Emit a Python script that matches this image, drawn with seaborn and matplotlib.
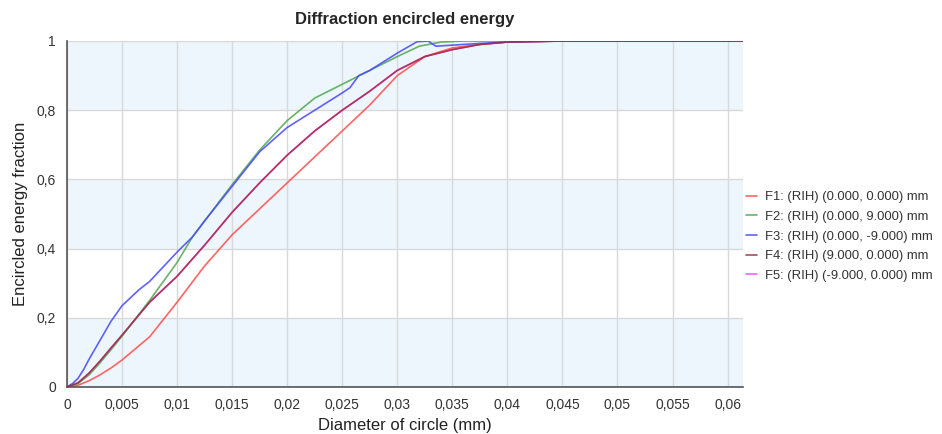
import numpy as np
import pandas as pd
import matplotlib
matplotlib.use("Agg")
import matplotlib.pyplot as plt
import seaborn as sns
from matplotlib.ticker import FuncFormatter

labels = ["F1: (RIH) (0.000, 0.000) mm",
          "F2: (RIH) (0.000, 9.000) mm",
          "F3: (RIH) (0.000, -9.000) mm",
          "F4: (RIH) (9.000, 0.000) mm",
          "F5: (RIH) (-9.000, 0.000) mm"]
colors = ["#ff4a4a", "#4ea64e", "#4646ff", "#a02a45", "#ff44ff"]

f1_x = [0, 0.001, 0.002, 0.003, 0.004, 0.005, 0.0075, 0.01, 0.0125, 0.015, 0.0175, 0.02,
        0.0225, 0.025, 0.0275, 0.03, 0.0325, 0.035, 0.0375, 0.04, 0.045, 0.0614]
f1_y = [0, 0.005, 0.018, 0.035, 0.055, 0.078, 0.145, 0.245, 0.35, 0.44, 0.515, 0.59,
        0.665, 0.74, 0.815, 0.9, 0.955, 0.98, 0.99, 0.997, 1.0, 1.0]

f2_x = [0, 0.001, 0.002, 0.003, 0.004, 0.005, 0.0075, 0.01, 0.0114, 0.0125, 0.015, 0.0175,
        0.02, 0.0225, 0.025, 0.0275, 0.03, 0.032, 0.034, 0.036, 0.04, 0.0614]
f2_y = [0, 0.01, 0.035, 0.07, 0.108, 0.147, 0.25, 0.36, 0.434, 0.48, 0.585, 0.685,
        0.77, 0.835, 0.875, 0.915, 0.955, 0.985, 0.997, 1.0, 1.0, 1.0]

f3_x = [0, 0.0005, 0.001, 0.0015, 0.002, 0.003, 0.004, 0.005, 0.0065, 0.0075, 0.01, 0.0114,
        0.0125, 0.015, 0.0175, 0.02, 0.0225, 0.025, 0.0257, 0.0265, 0.0275, 0.03, 0.0318,
        0.0328, 0.0335, 0.035, 0.0375, 0.04, 0.045, 0.0614]
f3_y = [0, 0.01, 0.025, 0.05, 0.08, 0.135, 0.19, 0.235, 0.28, 0.305, 0.39, 0.434,
        0.48, 0.58, 0.68, 0.75, 0.8, 0.85, 0.865, 0.9, 0.915, 0.965, 0.998,
        1.0, 0.985, 0.988, 0.993, 0.997, 1.0, 1.0]

f4_x = [0, 0.001, 0.002, 0.003, 0.004, 0.005, 0.0075, 0.01, 0.0125, 0.015, 0.0175, 0.02,
        0.0225, 0.025, 0.0275, 0.03, 0.0325, 0.035, 0.0375, 0.04, 0.045, 0.0614]
f4_y = [0, 0.012, 0.04, 0.075, 0.113, 0.15, 0.245, 0.32, 0.41, 0.505, 0.59, 0.67,
        0.74, 0.8, 0.855, 0.915, 0.955, 0.975, 0.99, 0.997, 1.0, 1.0]

f5_x = list(f4_x)
f5_y = list(f4_y)

xs = [f1_x, f2_x, f3_x, f4_x, f5_x]
ys = [f1_y, f2_y, f3_y, f4_y, f5_y]
frames = []
for lab, x, y in zip(labels, xs, ys):
    frames.append(pd.DataFrame({"x": x, "y": y, "series": lab}))
df = pd.concat(frames, ignore_index=True)

sns.set_style("white")
plt.rcParams["font.family"] = ["Liberation Sans", "DejaVu Sans"]

fig = plt.figure(figsize=(9.42, 4.34), dpi=100)
ax = fig.add_axes([67 / 942, 1 - 387 / 434, (743 - 67) / 942, (387 - 41) / 434])

xmax = 0.0614
for lo in [0.0, 0.4, 0.8]:
    ax.axhspan(lo, lo + 0.2, color="#eef6fd", zorder=0, lw=0)

sns.lineplot(data=df, x="x", y="y", hue="series", hue_order=labels,
             palette=dict(zip(labels, colors)), sort=False, estimator=None,
             units="series", linewidth=1.2, alpha=0.85, ax=ax, legend=True)

# F5 sits below F4 (identical curves), so the visible trace is F4's
for ln in ax.get_lines():
    if ln.get_label() == labels[4] or ln.get_color() == colors[4]:
        ln.set_zorder(2.0)
    elif ln.get_label() == labels[3] or ln.get_color() == colors[3]:
        ln.set_zorder(2.6)
    else:
        ln.set_zorder(2.4)

ax.set_xlim(0, xmax)
ax.set_ylim(0, 1)
ax.set_xticks(np.arange(0, 0.0601, 0.005))
ax.set_yticks(np.arange(0, 1.01, 0.2))

def fmt(v, pos):
    s = ("%.3f" % v).rstrip("0").rstrip(".")
    if s == "-0":
        s = "0"
    return s.replace(".", ",")

ax.xaxis.set_major_formatter(FuncFormatter(fmt))
ax.yaxis.set_major_formatter(FuncFormatter(fmt))
ax.grid(True, color="#d9d9d9", lw=1.0, zorder=1)
ax.set_axisbelow(True)
for s in ["top", "right"]:
    ax.spines[s].set_visible(False)
for s in ["left", "bottom"]:
    ax.spines[s].set_color("#555555")
    ax.spines[s].set_linewidth(1.2)
ax.tick_params(axis="both", direction="out", length=5, width=1, color="#555555",
               labelsize=10, labelcolor="#333333", pad=3)

ax.set_xlabel("Diameter of circle (mm)", fontsize=12, color="#222222", labelpad=4)
ax.set_ylabel("Encircled energy fraction", fontsize=12, color="#222222", labelpad=6)
ax.set_title("Diffraction encircled energy", fontsize=12, fontweight="bold", pad=12)

handles, labs = ax.get_legend_handles_labels()
leg = ax.legend(handles, labs, loc="center left", bbox_to_anchor=(0.997, 0.435),
                frameon=False, fontsize=9.4, handlelength=0.85, handletextpad=0.6,
                labelspacing=0.58, borderaxespad=0.0)
for t in leg.get_texts():
    t.set_color("#333333")

fig.savefig("out.png", dpi=100)
